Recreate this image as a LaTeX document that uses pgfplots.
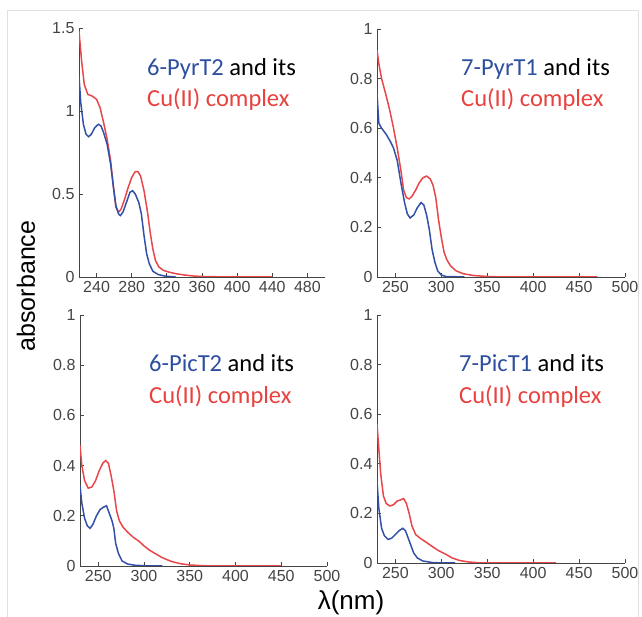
\documentclass[border=0pt]{standalone}
\usepackage{fontspec}
\setmainfont{Liberation Sans}
\newfontfamily\calib{Carlito}
\usepackage{pgfplots}
\pgfplotsset{compat=1.18}

\definecolor{cblue}{HTML}{3350A8}
\definecolor{cred}{HTML}{E8474A}
\definecolor{tblue}{HTML}{2E4FA0}
\definecolor{tred}{HTML}{E8413E}
\definecolor{axgray}{HTML}{444444}

\pgfplotsset{
  panel/.style={
    scale only axis,
    anchor=south west,
    axis x line*=bottom, axis y line*=left,
    axis line style={draw=axgray, line width=0.9pt},
    tick style={draw=axgray, line width=0.9pt},
    tick align=inside,
    major tick length=4pt,
    ymin=0,
    tick label style={font=\fontsize{16}{16}\selectfont, text=axgray},
    /pgf/number format/assume math mode=true,
    xticklabel style={yshift=-1pt},
    yticklabel style={xshift=-1pt},
  },
  red line/.style={cred, line width=1.5pt},
  blue line/.style={cblue, line width=1.5pt},
}

\begin{document}
\begin{tikzpicture}[x=1pt, y=1pt]
\path[use as bounding box] (0,0) rectangle (642,617);
\draw[black!12, line width=0.8pt] (7,0) -- (7,607) -- (638,607) -- (638,0);

% top left: 6-PyrT2
\begin{axis}[panel, at={(79pt,340pt)}, width=246pt, height=249pt,
  xmin=220, xmax=500, ymax=1.5,
  xtick={240,280,...,480}, ytick={0,0.5,1,1.5}]
\addplot[red line] coordinates {
(220,1.48)(223,1.30)(226,1.16)(230,1.10)(235,1.09)(240,1.07)(244,1.02)(248,0.93)
(252,0.83)(256,0.70)(259,0.55)(262,0.42)(265,0.39)(268,0.41)(272,0.47)(276,0.54)
(280,0.60)(284,0.635)(287,0.635)(290,0.61)(294,0.52)(298,0.39)(301,0.27)(304,0.17)
(307,0.10)(311,0.06)(316,0.04)(322,0.03)(330,0.02)(340,0.012)(350,0.006)(360,0.003)
(380,0.001)(400,0)(440,0)};
\addplot[blue line] coordinates {
(220,1.21)(222,1.05)(225,0.92)(228,0.86)(231,0.845)(234,0.86)(238,0.90)(242,0.92)
(245,0.91)(248,0.87)(252,0.80)(256,0.68)(259,0.55)(262,0.43)(265,0.38)(267,0.37)
(270,0.39)(274,0.45)(278,0.51)(281,0.52)(284,0.50)(288,0.45)(291,0.38)(294,0.25)
(297,0.14)(300,0.08)(304,0.035)(310,0.015)(318,0.005)(330,0)};
\end{axis}

% top right: 7-PyrT1
\begin{axis}[panel, at={(377pt,340pt)}, width=248pt, height=248pt,
  xmin=230, xmax=500, ymax=1,
  xtick={250,300,...,500}, ytick={0,0.2,...,1}]
\addplot[red line] coordinates {
(230,0.915)(232,0.86)(235,0.80)(240,0.73)(244,0.67)(248,0.60)(252,0.52)(256,0.43)
(259,0.35)(262,0.32)(265,0.315)(268,0.325)(272,0.35)(276,0.38)(280,0.40)(284,0.407)
(288,0.395)(291,0.37)(294,0.32)(297,0.23)(300,0.16)(303,0.10)(306,0.07)(310,0.045)
(316,0.025)(324,0.013)(335,0.006)(350,0.002)(370,0)(470,0)};
\addplot[blue line] coordinates {
(230,0.74)(232,0.62)(235,0.60)(240,0.575)(244,0.55)(248,0.52)(252,0.47)(256,0.38)
(260,0.30)(263,0.255)(266,0.238)(270,0.25)(274,0.28)(278,0.30)(281,0.29)(284,0.25)
(287,0.19)(290,0.11)(293,0.06)(296,0.025)(300,0.008)(305,0.002)(325,0)};
\end{axis}

% bottom left: 6-PicT2
\begin{axis}[panel, at={(80pt,51pt)}, width=247pt, height=251pt,
  xmin=230, xmax=500, ymax=1,
  xtick={250,300,...,500}, ytick={0,0.2,...,1}]
\addplot[red line] coordinates {
(230,0.48)(232,0.40)(235,0.34)(239,0.31)(243,0.315)(247,0.34)(251,0.38)(255,0.41)
(258,0.42)(261,0.41)(264,0.36)(267,0.30)(270,0.22)(273,0.18)(277,0.155)(282,0.135)
(288,0.115)(294,0.10)(300,0.08)(306,0.063)(312,0.05)(320,0.033)(330,0.018)(340,0.009)
(350,0.004)(365,0.001)(380,0)(450,0)};
\addplot[blue line] coordinates {
(230,0.32)(232,0.25)(235,0.19)(238,0.16)(241,0.15)(244,0.165)(248,0.20)(252,0.225)
(256,0.235)(259,0.24)(262,0.21)(265,0.18)(267,0.15)(269,0.09)(272,0.05)(276,0.02)
(282,0.008)(290,0.003)(300,0.001)(320,0)};
\end{axis}

% bottom right: 7-PicT1
\begin{axis}[panel, at={(377pt,54pt)}, width=248pt, height=248pt,
  xmin=230, xmax=500, ymax=1,
  xtick={250,300,...,500}, ytick={0,0.2,...,1}]
\addplot[red line] coordinates {
(230,0.56)(232,0.46)(234,0.36)(237,0.27)(240,0.24)(244,0.23)(248,0.235)(252,0.25)
(256,0.255)(259,0.26)(262,0.24)(265,0.20)(268,0.15)(272,0.115)(277,0.10)(283,0.085)
(290,0.067)(297,0.05)(305,0.035)(312,0.02)(320,0.01)(330,0.004)(340,0.001)(350,0)(425,0)};
\addplot[blue line] coordinates {
(230,0.33)(232,0.22)(235,0.14)(238,0.11)(242,0.095)(246,0.10)(250,0.115)(254,0.13)
(258,0.14)(261,0.13)(264,0.10)(267,0.07)(270,0.04)(274,0.02)(280,0.008)(290,0.002)
(300,0)(315,0)};
\end{axis}

% annotations
\begin{scope}[every node/.style={anchor=base west, inner sep=0pt, font=\calib\fontsize{24.5}{24.5}\selectfont}]
\node at (147,541) {\textcolor{tblue}{6-PyrT2} and its};
\node at (147,510) {\textcolor{tred}{Cu(II) complex}};
\node at (461,541) {\textcolor{tblue}{7-PyrT1} and its};
\node at (461,510) {\textcolor{tred}{Cu(II) complex}};
\node at (149,245) {\textcolor{tblue}{6-PicT2} and its};
\node at (149,213) {\textcolor{tred}{Cu(II) complex}};
\node at (459,245) {\textcolor{tblue}{7-PicT1} and its};
\node at (459,213) {\textcolor{tred}{Cu(II) complex}};
\end{scope}

\node[rotate=90, font=\fontsize{25}{25}\selectfont, inner sep=0pt] at (26,331) {absorbance};
\node[font=\fontsize{26}{26}\selectfont, inner sep=0pt, anchor=south] at (351,2) {λ(nm)};
\end{tikzpicture}
\end{document}
